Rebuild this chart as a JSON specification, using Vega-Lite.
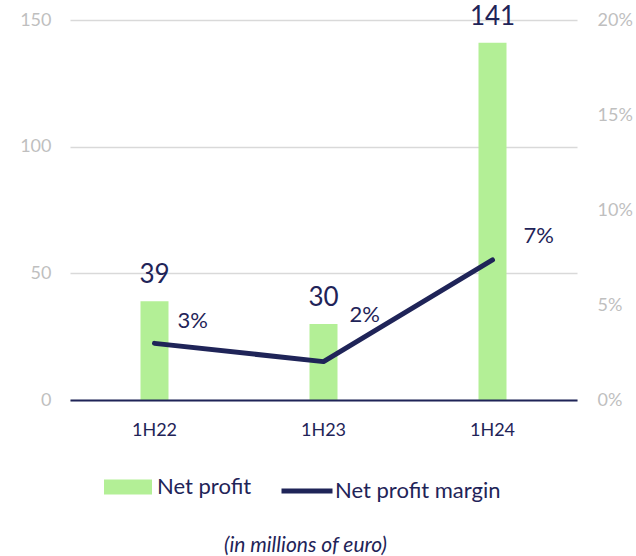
{
  "$schema": "https://vega.github.io/schema/vega-lite/v6.json",
  "width": 507,
  "height": 380,
  "autosize": {"type": "none"},
  "padding": {"left": 70, "top": 20, "right": 59, "bottom": 156},
  "background": "white",
  "config": {
    "font": "Lato",
    "view": {"stroke": null},
    "legend": {"labelFont": "Lato", "labelFontSize": 22, "labelColor": "#1f2458", "title": null, "labelLimit": 400}
  },
  "title": {
    "text": "(in millions of euro)",
    "orient": "bottom",
    "fontStyle": "italic",
    "fontWeight": "normal",
    "fontSize": 21,
    "color": "#1f2458",
    "font": "Lato",
    "offset": 33,
    "dx": -18
  },
  "data": {
    "values": [
      {"period": "1H22", "profit": 39, "margin": 0.0298, "label": "3%"},
      {"period": "1H23", "profit": 30, "margin": 0.0202, "label": "2%"},
      {"period": "1H24", "profit": 141, "margin": 0.0737, "label": "7%"}
    ]
  },
  "encoding": {
    "x": {
      "field": "period",
      "type": "nominal",
      "sort": null,
      "scale": {"paddingInner": 0, "paddingOuter": 0},
      "axis": {
        "title": null,
        "labelAngle": 0,
        "labelColor": "#1f2458",
        "labelFontSize": 18,
        "labelPadding": 21,
        "ticks": false,
        "domainColor": "#1f2458",
        "domainWidth": 2,
        "zindex": 1
      }
    }
  },
  "layer": [
    {
      "layer": [
        {
          "mark": {"type": "bar", "size": 28},
          "encoding": {
            "y": {
              "field": "profit",
              "type": "quantitative",
              "scale": {"domain": [0, 150]},
              "axis": {
                "title": null,
                "values": [0, 50, 100, 150],
                "labelColor": "#bfbfbf",
                "labelFontSize": 18,
                "labelPadding": 19,
                "ticks": false,
                "domain": false,
                "gridColor": "#d9d9d9",
                "gridWidth": 1.5
              }
            },
            "fill": {
              "datum": "Net profit",
              "scale": {"domain": ["Net profit"], "range": ["#b3ef96"]},
              "legend": {
                "orient": "none",
                "legendX": 34,
                "legendY": 443,
                "symbolType": "M-1,-0.3125H1V0.3125H-1Z",
                "symbolSize": 2304,
                "symbolOpacity": 1,
                "symbolStrokeWidth": 0,
                "labelOffset": 5
              }
            }
          }
        },
        {
          "mark": {"type": "text", "baseline": "alphabetic", "dy": -18, "fontSize": 26, "color": "#1f2458"},
          "encoding": {
            "y": {"field": "profit", "type": "quantitative", "scale": {"domain": [0, 150]}},
            "text": {"field": "profit", "type": "quantitative"}
          }
        }
      ]
    },
    {
      "layer": [
        {
          "mark": {"type": "line", "strokeWidth": 5, "strokeCap": "round", "strokeJoin": "round"},
          "encoding": {
            "y": {
              "field": "margin",
              "type": "quantitative",
              "scale": {"domain": [0, 0.2]},
              "axis": {
                "orient": "right",
                "title": null,
                "values": [0, 0.05, 0.1, 0.15, 0.2],
                "format": ".0%",
                "labelColor": "#bfbfbf",
                "labelFontSize": 18,
                "labelPadding": 20,
                "ticks": false,
                "domain": false,
                "grid": false
              }
            },
            "stroke": {
              "datum": "Net profit margin",
              "scale": {"domain": ["Net profit margin"], "range": ["#1f2458"]},
              "legend": {
                "orient": "none",
                "legendX": 209,
                "legendY": 443,
                "symbolType": "stroke",
                "symbolSize": 2601,
                "symbolStrokeWidth": 5,
                "labelOffset": 0
              }
            }
          }
        },
        {
          "transform": [{"filter": "datum.period == '1H22'"}],
          "mark": {"type": "text", "align": "left", "baseline": "alphabetic", "dx": 23, "dy": -15, "fontSize": 22, "color": "#1f2458"},
          "encoding": {
            "y": {"field": "margin", "type": "quantitative", "scale": {"domain": [0, 0.2]}},
            "text": {"field": "label"}
          }
        },
        {
          "transform": [{"filter": "datum.period == '1H23'"}],
          "mark": {"type": "text", "align": "left", "baseline": "alphabetic", "dx": 26, "dy": -40, "fontSize": 22, "color": "#1f2458"},
          "encoding": {
            "y": {"field": "margin", "type": "quantitative", "scale": {"domain": [0, 0.2]}},
            "text": {"field": "label"}
          }
        },
        {
          "transform": [{"filter": "datum.period == '1H24'"}],
          "mark": {"type": "text", "align": "left", "baseline": "alphabetic", "dx": 31, "dy": -17, "fontSize": 22, "color": "#1f2458"},
          "encoding": {
            "y": {"field": "margin", "type": "quantitative", "scale": {"domain": [0, 0.2]}},
            "text": {"field": "label"}
          }
        }
      ]
    }
  ],
  "resolve": {"scale": {"y": "independent"}}
}
